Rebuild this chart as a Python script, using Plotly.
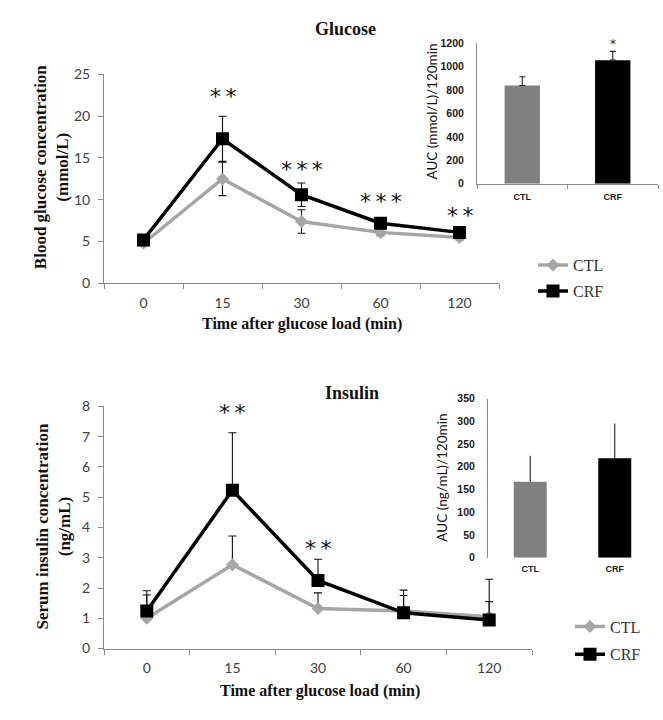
import plotly.graph_objects as go

# ---------------- data ----------------
times = ["0", "15", "30", "60", "120"]

glucose_ctl = [4.8, 12.5, 7.4, 6.1, 5.5]
glucose_ctl_err = [0.3, 2.0, 1.4, 0.4, 0.3]
glucose_crf = [5.2, 17.3, 10.6, 7.2, 6.1]
glucose_crf_err = [0.4, 2.7, 1.4, 0.4, 0.3]
glucose_sig = ["", "**", "***", "***", "**"]
glucose_sig_y = [None, 22.3, 13.6, 9.8, 8.1]

insulin_ctl = [1.0, 2.77, 1.32, 1.24, 1.05]
insulin_ctl_err = [0.77, 0.95, 0.52, 0.69, 0.50]
insulin_crf = [1.24, 5.23, 2.25, 1.18, 0.94]
insulin_crf_err = [0.67, 1.90, 0.70, 0.57, 1.35]
insulin_sig = ["", "**", "**", "", ""]
insulin_sig_y = [None, 7.8, 3.3, None, None]

groups = ["CTL", "CRF"]
auc_glucose = [839, 1055]
auc_glucose_err = [75, 75]
auc_glucose_sig = ["", "*"]
auc_glucose_sig_y = [None, 1190]
auc_insulin = [167, 219]
auc_insulin_err = [57, 76]

glucose_ticks = [0, 5, 10, 15, 20, 25]
insulin_ticks = [0, 1, 2, 3, 4, 5, 6, 7, 8]
auc_glucose_ticks = [0, 200, 400, 600, 800, 1000, 1200]
auc_insulin_ticks = [0, 50, 100, 150, 200, 250, 300, 350]

# ---------------- styles ----------------
W, H = 663, 720
GRAY = "#A6A6A6"
AXC = "#8C8C8C"
SERIF = "Liberation Serif"
SANS = "Lato"
BSANS = "Liberation Sans"

def px(x):
    return x / W

def py(y):
    return 1 - y / H

fig = go.Figure()

def add_main(xa, ya, ctl, ctl_err, crf, crf_err, symmetric, legend):
    fig.add_trace(go.Scatter(
        x=times, y=ctl, xaxis=xa, yaxis=ya, name="CTL", legend=legend,
        legendgroup=legend + "ctl",
        mode="lines+markers",
        line=dict(color=GRAY, width=3.5),
        marker=dict(symbol="diamond", size=10, color=GRAY),
        error_y=dict(type="data", array=ctl_err, symmetric=symmetric,
                     arrayminus=None if symmetric else [0] * len(ctl_err),
                     color="#111111", thickness=1.1, width=4),
    ))
    fig.add_trace(go.Scatter(
        x=times, y=crf, xaxis=xa, yaxis=ya, name="CRF", legend=legend,
        legendgroup=legend + "crf",
        mode="lines+markers",
        line=dict(color="#000000", width=3.5),
        marker=dict(symbol="square", size=13, color="#000000"),
        error_y=dict(type="data", array=crf_err, symmetric=symmetric,
                     arrayminus=None if symmetric else [0] * len(crf_err),
                     color="#111111", thickness=1.1, width=4),
    ))

add_main("x", "y", glucose_ctl, glucose_ctl_err, glucose_crf, glucose_crf_err, True, "legend")
add_main("x3", "y3", insulin_ctl, insulin_ctl_err, insulin_crf, insulin_crf_err, False, "legend2")

# inset bars
fig.add_trace(go.Bar(
    x=groups, y=auc_glucose, xaxis="x2", yaxis="y2", showlegend=False,
    marker=dict(color=["#808080", "#000000"], line=dict(width=0)), width=0.39,
    error_y=dict(type="data", array=auc_glucose_err, arrayminus=[0, 0], symmetric=False,
                 color="#222222", thickness=1.1, width=3),
))
fig.add_trace(go.Bar(
    x=groups, y=auc_insulin, xaxis="x4", yaxis="y4", showlegend=False,
    marker=dict(color=["#808080", "#000000"], line=dict(width=0)), width=0.39,
    error_y=dict(type="data", array=auc_insulin_err, arrayminus=[0, 0], symmetric=False,
                 color="#222222", thickness=1.1, width=0),
))

main_x = dict(type="category", categoryorder="array", categoryarray=times,
              range=[-0.5, 4.5], showline=True, linecolor=AXC, linewidth=1,
              ticks="outside", tickson="boundaries", ticklen=5, tickcolor=AXC,
              showgrid=False, zeroline=False, fixedrange=True,
              tickfont=dict(family=SANS, size=14, color="#404040"),
              ticklabelstandoff=7)
main_y = dict(showline=True, linecolor=AXC, linewidth=1, ticks="outside",
              ticklen=5, tickcolor=AXC, showgrid=False, zeroline=False,
              tickfont=dict(family=SANS, size=14, color="#404040"),
              ticklabelstandoff=5)
inset_x = dict(type="category", categoryorder="array", categoryarray=groups,
               range=[-0.5, 1.5], showgrid=False, zeroline=False,
               tickfont=dict(family=BSANS, size=9, color="#1a1a1a", weight="bold"),
               ticklabelstandoff=4)
inset_y = dict(showline=True, linecolor=AXC, linewidth=1, ticks="", showgrid=False,
               zeroline=False, ticklabelstandoff=10,
               tickfont=dict(family=BSANS, size=10.5, color="#1a1a1a", weight="bold"))

fig.update_layout(
    width=W, height=H, margin=dict(l=0, r=0, t=0, b=0),
    paper_bgcolor="white", plot_bgcolor="rgba(0,0,0,0)",
    xaxis=dict(main_x, domain=[px(104), px(499)], anchor="y"),
    yaxis=dict(main_y, domain=[py(281), py(67)], range=[0, 25], tickvals=glucose_ticks, anchor="x"),
    xaxis3=dict(main_x, domain=[px(104), px(532)], anchor="y3"),
    yaxis3=dict(main_y, domain=[py(655), py(407)], range=[0, 8], tickvals=insulin_ticks, anchor="x3"),
    xaxis2=dict(inset_x, domain=[px(477), px(658)], anchor="y2", showline=True,
                linecolor=AXC, ticks="outside", tickson="boundaries", ticklen=4, tickcolor=AXC),
    yaxis2=dict(inset_y, domain=[py(179), py(35)], range=[0, 1200], tickvals=auc_glucose_ticks, anchor="x2"),
    xaxis4=dict(inset_x, domain=[px(488), px(657)], anchor="y4", showline=False, ticks=""),
    yaxis4=dict(inset_y, domain=[py(562), py(399)], range=[0, 350], tickvals=auc_insulin_ticks, anchor="x4"),
    legend=dict(x=px(533), y=py(245), xanchor="left", yanchor="top",
                font=dict(family=SERIF, size=16, color="#333333"),
                bgcolor="rgba(0,0,0,0)", tracegroupgap=2, itemwidth=30,
                traceorder="grouped"),
    legend2=dict(x=px(570), y=py(615), xanchor="left", yanchor="top",
                 font=dict(family=SERIF, size=16, color="#333333"),
                 bgcolor="rgba(0,0,0,0)", tracegroupgap=4, itemwidth=30,
                 traceorder="grouped"),
    bargap=0.2,
)

def pa(text, x, y, size, family=SERIF, angle=0, color="#111"):
    return dict(text=text, x=px(x), y=py(y), xref="paper", yref="paper",
                xanchor="center", yanchor="middle", showarrow=False, textangle=angle,
                font=dict(family=family, size=size, color=color))

ann = [
    pa("<b>Glucose</b>", 345, 20, 18),
    pa("<b>Insulin</b>", 352, 393, 18),
    pa("<b>Time after glucose load (min)</b>", 302, 323, 16),
    pa("<b>Time after glucose load (min)</b>", 320, 699, 16),
    pa("<b>Blood glucose concentration<br>(mmol/L)</b>", 51, 162, 17, angle=-90),
    pa("<b>Serum insulin concentration<br>(ng/mL)</b>", 53, 530, 17, angle=-90),
    pa("AUC (mmol/L)/120min", 432, 105, 13.5, family=SANS, angle=-90),
    pa("AUC (ng/mL)/120min", 442, 480, 13.5, family=SANS, angle=-90),
]

SIG_FONT = dict(family="DejaVu Sans", size=22, color="#111")
for i, (s, yv) in enumerate(zip(glucose_sig, glucose_sig_y)):
    if s:
        ann.append(dict(text="\u2009".join(s), x=i, y=yv, xref="x", yref="y", showarrow=False,
                        xanchor="center", yanchor="middle", font=SIG_FONT))
for i, (s, yv) in enumerate(zip(insulin_sig, insulin_sig_y)):
    if s:
        ann.append(dict(text="\u2009".join(s), x=i, y=yv, xref="x3", yref="y3", showarrow=False,
                        xanchor="center", yanchor="middle", font=SIG_FONT))
for i, (s, yv) in enumerate(zip(auc_glucose_sig, auc_glucose_sig_y)):
    if s:
        ann.append(dict(text=s, x=i, y=yv, xref="x2", yref="y2", showarrow=False,
                        xanchor="center", yanchor="middle",
                        font=dict(family="DejaVu Sans", size=12, color="#333")))
fig.update_layout(annotations=ann)

fig.write_html("out.html")
